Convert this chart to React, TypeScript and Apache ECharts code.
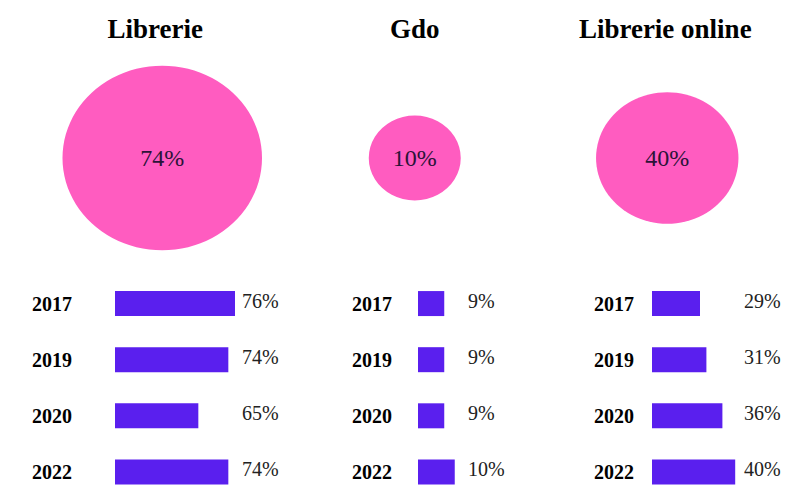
import React, { useEffect, useRef } from "react";
import * as echarts from "echarts";

const channels = ["Librerie", "Gdo", "Librerie online"];
const shares2022 = [74, 10, 40];
const years = ["2017", "2019", "2020", "2022"];
const librerieValues = [76, 74, 65, 74];
const gdoValues = [9, 9, 9, 10];
const onlineValues = [29, 31, 36, 40];

const FONT = "'Liberation Serif', 'Times New Roman', serif";
const PINK = "#FF5CC0";
const PURPLE = "#5A1FEE";
const TEXT_DARK = "#2B1338";

export default function App() {
  const ref = useRef<HTMLDivElement>(null);

  useEffect(() => {
    if (!ref.current) return;
    const chart = echarts.init(ref.current, undefined, { renderer: "svg" });

    const panels = [
      { values: librerieValues, left: 115, width: 130, min: 40, max: 79, yearMargin: 83, labelX: 127 },
      { values: gdoValues, left: 418, width: 42, min: 6.5, max: 10.5, yearMargin: 66, labelX: 50 },
      { values: onlineValues, left: 652, width: 96, min: 14, max: 44, yearMargin: 58, labelX: 92 },
    ];

    const titleShift = [14, 0, 4];

    const grids: any[] = [{ left: 36, width: 757.5, top: 60, height: 196 }];
    const xAxes: any[] = [
      {
        type: "category",
        gridIndex: 0,
        data: channels.map((c, i) => ({
          value: c,
          textStyle: { padding: [0, titleShift[i], 0, 0] },
        })),
        position: "top",
        axisLine: { show: false },
        axisTick: { show: false },
        axisLabel: {
          fontFamily: FONT,
          fontWeight: "bold",
          fontSize: 27,
          color: "#000",
          margin: 18,
        },
      },
    ];
    const yAxes: any[] = [
      { type: "value", gridIndex: 0, min: 0, max: 1, show: false },
    ];
    const series: any[] = [
      {
        type: "scatter",
        xAxisIndex: 0,
        yAxisIndex: 0,
        data: shares2022.map((v, i) => [i, 0.5, v]),
        symbol: "circle",
        symbolSize: (val: number[]) => {
          const w = 2 * (37.6 + 0.84 * val[2]);
          return [w, w * 0.925];
        },
        itemStyle: { color: PINK, opacity: 1 },
        label: {
          show: true,
          position: "inside",
          formatter: (p: any) => p.value[2] + "%",
          fontFamily: FONT,
          fontSize: 24,
          color: TEXT_DARK,
        },
        emphasis: { disabled: true },
      },
    ];

    panels.forEach((p, k) => {
      const gi = k + 1;
      grids.push({ left: p.left, width: p.width, top: 275.5, height: 229 });
      xAxes.push({ type: "value", gridIndex: gi, min: p.min, max: p.max, show: false });
      yAxes.push({
        type: "category",
        gridIndex: gi,
        data: years,
        inverse: true,
        axisLine: { show: false },
        axisTick: { show: false },
        axisLabel: {
          align: "left",
          margin: p.yearMargin,
          fontFamily: FONT,
          fontWeight: "bold",
          fontSize: 20,
          color: "#000",
          padding: [0, 0, 4, 0],
        },
      });
      series.push({
        type: "bar",
        xAxisIndex: gi,
        yAxisIndex: gi,
        data: p.values,
        barWidth: 25,
        itemStyle: { color: PURPLE },
        label: {
          show: true,
          position: [p.labelX, "50%"],
          verticalAlign: "middle",
          align: "left",
          formatter: "{c}%",
          fontFamily: FONT,
          fontSize: 20,
          color: "#222",
          offset: [0, -3],
        },
        emphasis: { disabled: true },
      });
    });

    chart.setOption({
      animation: false,
      backgroundColor: "#fff",
      grid: grids,
      xAxis: xAxes,
      yAxis: yAxes,
      series,
    });

    return () => chart.dispose();
  }, []);

  return (
    <div
      ref={ref}
      style={{ position: "fixed", left: 0, top: 0, width: 795, height: 500 }}
    />
  );
}
